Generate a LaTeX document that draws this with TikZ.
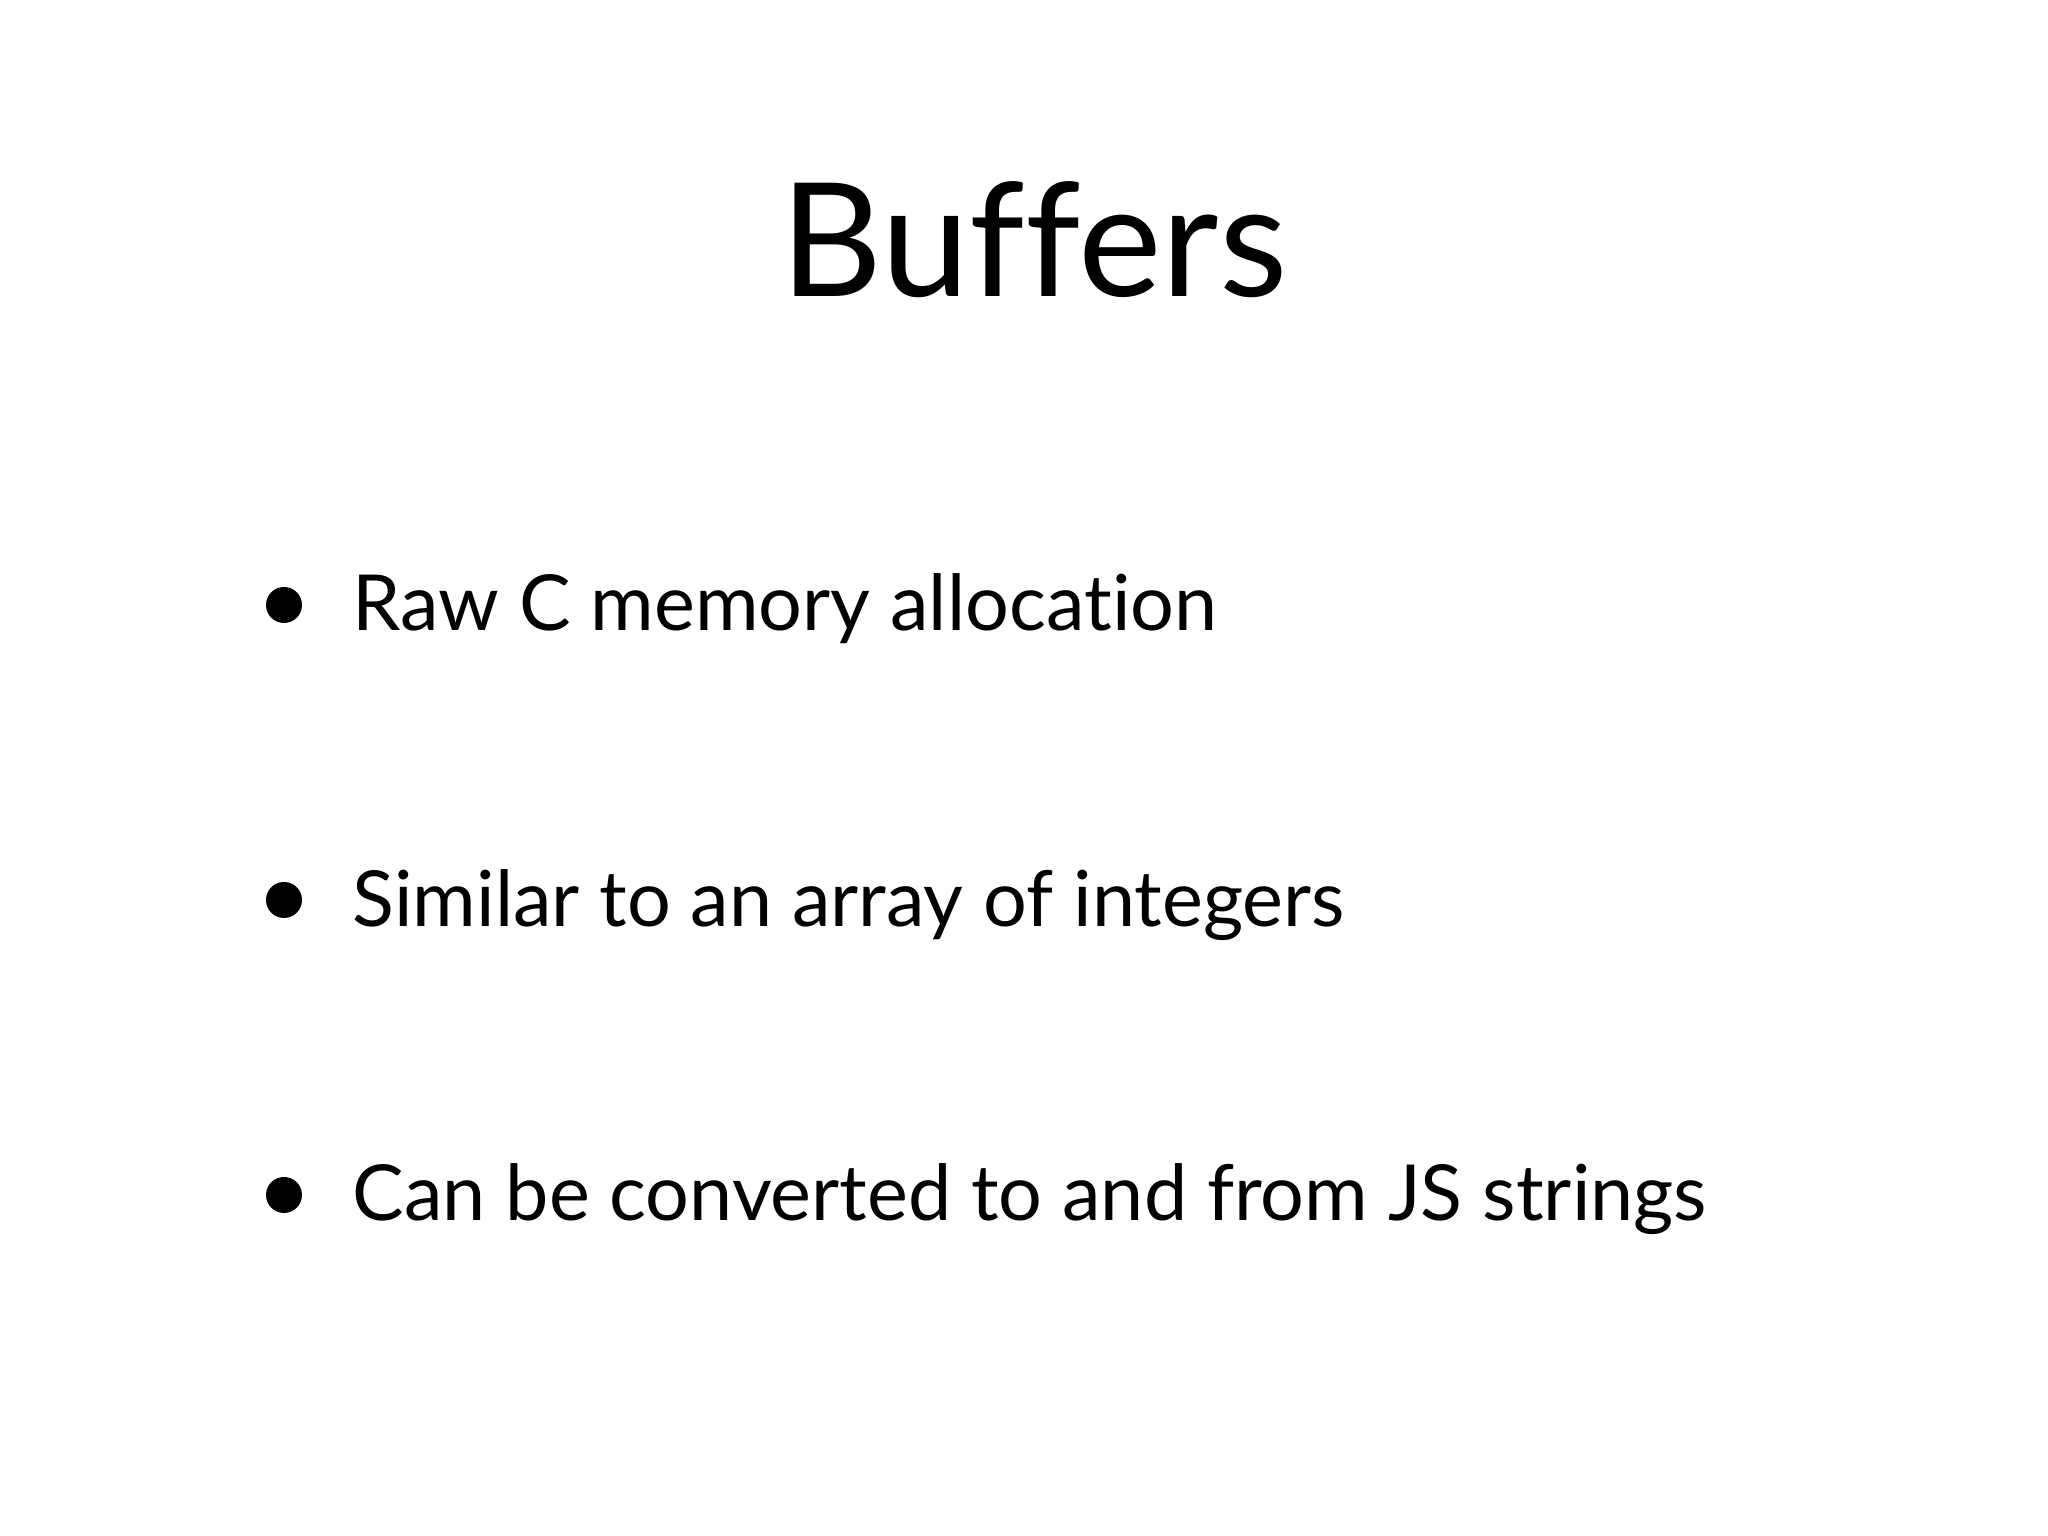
\documentclass[tikz,border=0pt]{standalone}
\usepackage{fontspec}
\setmainfont[Ligatures={NoCommon,NoDiscretionary}]{Lato}
\begin{document}
\begin{tikzpicture}[x=1cm,y=1cm,
  title/.style={anchor=base,font=\fontsize{45}{54}\selectfont,inner sep=0pt},
  item/.style={anchor=base west,font=\fontsize{22}{27}\selectfont,inner sep=0pt},
  dot/.style={circle,fill=black,minimum size=0.36cm,inner sep=0pt}]
\useasboundingbox[fill=white] (0,0) rectangle (20.48,15.36);
\node[title] (t) at (10.34,12.39) {Buffers};
\node[item] (a) at (3.52,9.05) {Raw C memory allocation};
\node[item] (b) at (3.52,6.09) {Similar to an array of integers};
\node[item] (c) at (3.52,3.15) {Can be converted to and from JS strings};
\node[dot] (da) at (2.84,9.31) {};
\node[dot] (db) at (2.84,6.36) {};
\node[dot] (dc) at (2.84,3.41) {};
\end{tikzpicture}
\end{document}
